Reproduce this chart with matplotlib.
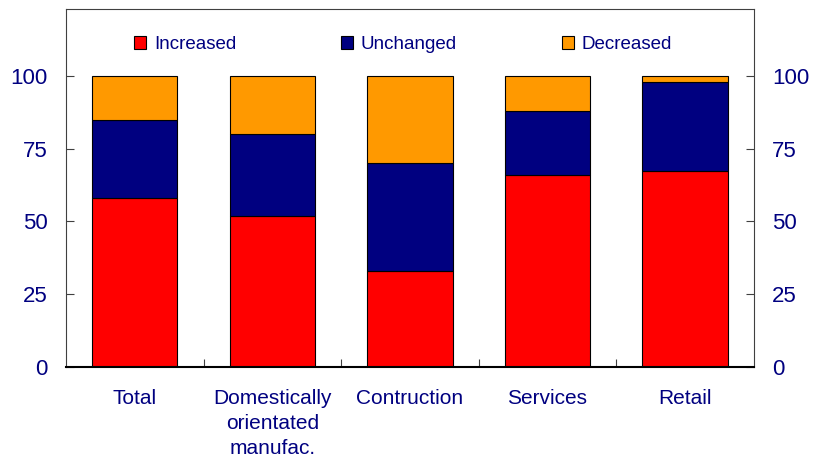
import matplotlib as mpl
mpl.use('Agg')
import matplotlib.pyplot as plt
import numpy as np

plt.rcParams['font.family'] = ['Liberation Sans', 'DejaVu Sans']

categories = ['Total', 'Domestically\norientated\nmanufac.', 'Contruction', 'Services', 'Retail']
increased = [58, 52, 33, 66, 67.5]
unchanged = [27, 28, 37, 22, 30.5]
decreased = [15, 20, 30, 12, 2]

navy = '#000080'
fig = plt.figure(figsize=(8.15, 4.62), dpi=100)
ax = fig.add_axes([0.081, 0.2056, 0.844, 0.775])

x = np.arange(len(categories))
w = 0.62
ax.bar(x, increased, w, color='#FF0000', edgecolor='black', linewidth=0.8, label='Increased')
ax.bar(x, unchanged, w, bottom=increased, color='#000080', edgecolor='black', linewidth=0.8, label='Unchanged')
bottom2 = [a + b for a, b in zip(increased, unchanged)]
ax.bar(x, decreased, w, bottom=bottom2, color='#FF9900', edgecolor='black', linewidth=0.8, label='Decreased')

ax.set_xlim(-0.5, len(categories) - 0.5)
ax.set_ylim(0, 123)
ax.set_yticks([0, 25, 50, 75, 100])
# boundaries get the tick marks, centres get the labels
ax.set_xticks(np.arange(0.5, len(categories) - 0.5))
ax.set_xticklabels([])
ax.set_xticks(x, minor=True)
ax.set_xticklabels(categories, minor=True, fontsize=15, color=navy, linespacing=1.4)
ax.tick_params(axis='x', which='minor', length=0, pad=16)
ax.tick_params(axis='x', which='major', direction='in', length=6, color='#404040')
ax.tick_params(axis='y', direction='in', length=6, color='#404040', right=True,
               labelright=True, labelsize=16, labelcolor=navy, pad=13)

for s in ['left', 'right', 'top']:
    ax.spines[s].set_color('#404040')
ax.spines['bottom'].set_color('black')
ax.spines['bottom'].set_linewidth(1.5)

ax.legend(loc='upper center', bbox_to_anchor=(0.49, 0.972), ncol=3, frameon=False,
          fontsize=13.5, labelcolor=navy, handlelength=0.65, handleheight=0.65,
          handletextpad=0.4, columnspacing=5.6)

plt.savefig('out.png')
